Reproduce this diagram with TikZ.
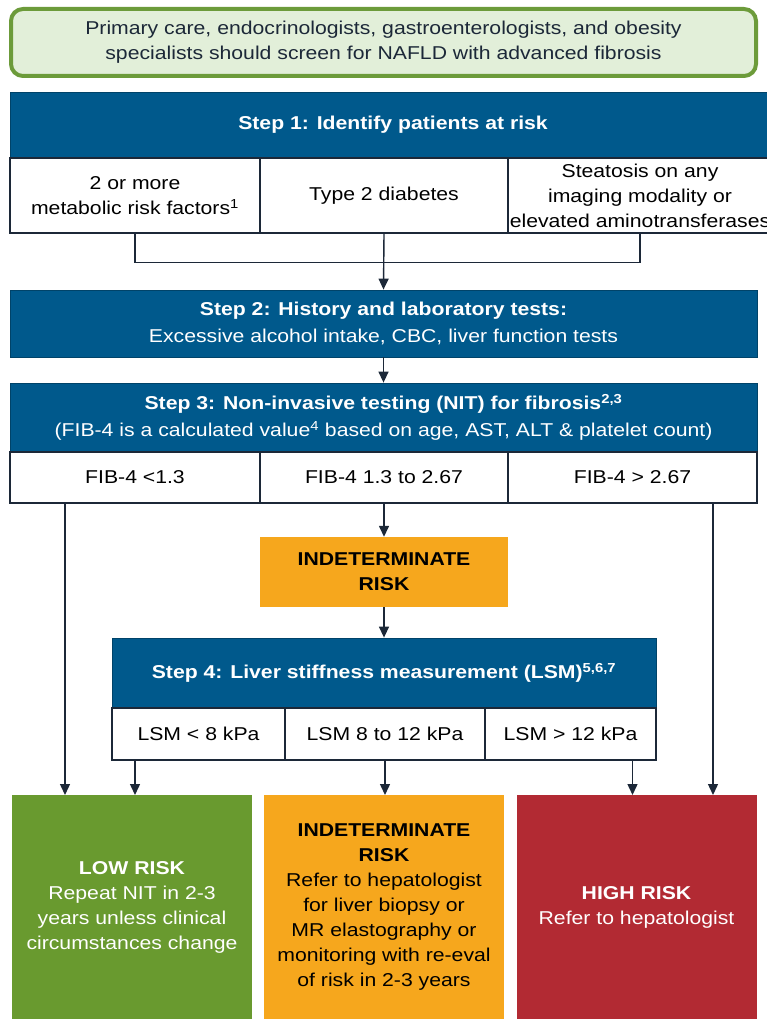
\documentclass[tikz,border=0pt]{standalone}
\usepackage{fontspec}
\setmainfont{Liberation Sans}[FakeStretch=1.14]
\usetikzlibrary{positioning}
\usetikzlibrary{arrows.meta}
\definecolor{hblue}{HTML}{00598C}
\definecolor{ink}{HTML}{1C2838}
\definecolor{paleg}{HTML}{E2EFD9}
\definecolor{leaf}{HTML}{6C9B3A}
\definecolor{lowg}{HTML}{699A2F}
\definecolor{amber}{HTML}{F6A71D}
\definecolor{brick}{HTML}{B22A33}
\tikzset{
	every node/.style = {font=\fontsize{18.6}{25}\selectfont, align=center, inner sep=0pt},
	header/.style = {fill=hblue, draw=hblue!75!black, line width=0.8pt, text=white, font=\fontsize{18.6}{27}\selectfont\bfseries},
	cell/.style = {fill=white, draw=ink, line width=1.2pt, text=black},
	link/.style = {draw=ink, line width=1.4pt},
	arr/.style = {link, -{Triangle[length=11pt,width=10pt]}},
	outcome/.style = {minimum width=240, minimum height=224, anchor=north}
}

\begin{document}
\begin{tikzpicture}[x=1pt, y=-1pt]
		\clip (0,0) rectangle (767,1019);
		% screening
		\node[draw=leaf, line width=4pt, rounded corners=12pt, fill=paleg, text=ink, minimum width=745, minimum height=67] (screen) at (383.5,42.5)
			{Primary care, endocrinologists, gastroenterologists, and obesity\\ specialists should screen for NAFLD with advanced fibrosis};
		% step 1
		\node[header, minimum width=766, minimum height=66] (s1) at (393,125) {Step 1: Identify patients at risk};
		\node[cell, minimum width=250, minimum height=75] (r1a) at (135,195.5) {2 or more\\ metabolic risk factors\textsuperscript{1}};
		\node[cell, minimum width=248, minimum height=75] (r1b) at (384,195.5) {Type 2 diabetes};
		\node[cell, minimum width=268, minimum height=75] (r1c) at (642,195.5) {};
		\node at (640,195.5) {Steatosis on any\\ imaging modality or\\ elevated aminotransferases};
		% step 2
		\node[header, minimum width=747, minimum height=67] (s2) at (383.5,323.5)
			{Step 2: History and laboratory tests:\\ \mdseries Excessive alcohol intake, CBC, liver function tests};
		% step 3
		\node[header, minimum width=747, minimum height=69] (s3) at (383.5,417.5)
			{Step 3: Non-invasive testing (NIT) for fibrosis\textsuperscript{2,3}\\ \mdseries (FIB-4 is a calculated value\textsuperscript{4} based on age, AST, ALT \& platelet count)};
		\node[cell, minimum width=250, minimum height=51] (f1) at (135,477.5) {FIB-4 <1.3};
		\node[cell, minimum width=248, minimum height=51] (f2) at (384,477.5) {FIB-4 1.3 to 2.67};
		\node[cell, minimum width=249, minimum height=51] (f3) at (632.5,477.5) {FIB-4 > 2.67};
		\node[fill=amber, minimum width=248, minimum height=70, font=\fontsize{18.6}{25}\selectfont\bfseries] (mid) at (384,572) {INDETERMINATE\\ RISK};
		% step 4
		\node[header, minimum width=544, minimum height=70] (s4) at (384,673) {Step 4: Liver stiffness measurement (LSM)\textsuperscript{5,6,7}};
		\node[cell, minimum width=173, minimum height=52] (l1) at (198.5,734) {LSM < 8 kPa};
		\node[cell, minimum width=200, minimum height=52] (l2) at (385,734) {LSM 8 to 12 kPa};
		\node[cell, minimum width=171, minimum height=52] (l3) at (570.5,734) {LSM > 12 kPa};
		% outcomes
		\node[outcome, fill=lowg, text=white] (low) at (132,795)
			{\textbf{LOW RISK}\\ Repeat NIT in 2-3\\ years unless clinical\\ circumstances change};
		\node[outcome, fill=amber, text=black] (ind) at (384,795)
			{\textbf{INDETERMINATE}\\ \textbf{RISK}\\ Refer to hepatologist\\ for liver biopsy or\\ MR elastography or\\ monitoring with re-eval\\ of risk in 2-3 years};
		\node[outcome, fill=brick, text=white] (high) at (636.5,795)
			{\textbf{HIGH RISK}\\ Refer to hepatologist};
		% connectors
		\draw[link] (r1a.south) -- ++(0,29) -| (r1c.south -| 640,0);
		\draw[arr] (r1b.south) -- (s2.north);
		\draw[arr] (s2.south) -- (s3.north);
		\draw[arr] (f2.south) -- (mid.north);
		\draw[arr] (mid.south) -- (s4.north);
		\draw[arr] ([xshift=-70]f1.south) -- ([xshift=-70]f1.south |- low.north);
		\draw[arr] ([xshift=80.5]f3.south) -- ([xshift=80.5]f3.south |- high.north);
		\draw[arr] (l1.south -| f1.south) -- (low.north -| f1.south);
		\draw[arr] (l2.south) -- (l2.south |- ind.north);
		\draw[arr] (l3.south -| f3.south) -- (high.north -| f3.south);
	\end{tikzpicture}
\end{document}
